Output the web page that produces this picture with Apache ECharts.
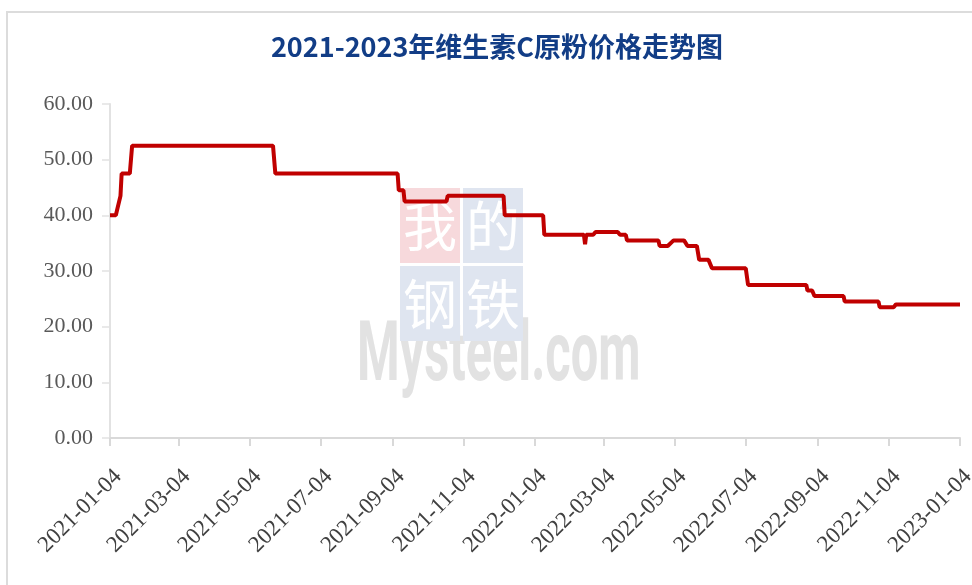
<!DOCTYPE html>
<html>
<head>
<meta charset="utf-8">
<script src="https://cdn.jsdelivr.net/npm/echarts@6/dist/echarts.min.js"></script>
<style>html,body{margin:0;padding:0;background:#fff}#main{width:972px;height:585px}</style>
</head>
<body>
<div id="main"></div>
<script>
// ---- data ----
const titleText = '2021-2023年维生素C原粉价格走势图';
const startDate = '2021-01-04';
const endDate = '2023-01-04';
const tickLabels = ['2021-01-04','2021-03-04','2021-05-04','2021-07-04','2021-09-04','2021-11-04',
  '2022-01-04','2022-03-04','2022-05-04','2022-07-04','2022-09-04','2022-11-04','2023-01-04'];
const priceDates = ['2021-01-04','2021-01-09','2021-01-13','2021-01-14','2021-01-21','2021-01-23',
  '2021-05-24','2021-05-26','2021-09-08','2021-09-09','2021-09-13','2021-09-14','2021-10-20','2021-10-21',
  '2021-12-08','2021-12-09','2022-01-11','2022-01-12','2022-02-15','2022-02-16','2022-02-17','2022-02-23',
  '2022-02-25','2022-03-16','2022-03-18','2022-03-23','2022-03-24','2022-04-20','2022-04-21','2022-04-28',
  '2022-05-03','2022-05-12','2022-05-15','2022-05-23','2022-05-25','2022-06-02','2022-06-05','2022-07-04',
  '2022-07-06','2022-08-25','2022-08-26','2022-08-30','2022-09-01','2022-09-26','2022-09-27','2022-10-26',
  '2022-10-27','2022-11-08','2022-11-10','2023-01-04'];
const priceValues = [40,40,43.5,47.5,47.5,52.5,
  52.5,47.5,47.5,44.5,44.5,42.5,42.5,43.5,
  43.5,40,40,36.5,36.5,34.8,36.5,36.5,
  37,37,36.5,36.5,35.5,35.5,34.5,34.5,
  35.5,35.5,34.5,34.5,32,32,30.5,30.5,
  27.5,27.5,26.5,26.5,25.5,25.5,24.5,24.5,
  23.5,23.5,24,24];
const yTicks = {min: 0, max: 60, interval: 10};

// ---- build daily category axis ----
function dayList(a, b) {
  const out = [];
  const d = new Date(a + 'T00:00:00Z');
  const e = new Date(b + 'T00:00:00Z');
  while (d <= e) { out.push(d.toISOString().slice(0, 10)); d.setUTCDate(d.getUTCDate() + 1); }
  return out;
}
const categories = dayList(startDate, endDate);
const tickSet = new Set(tickLabels);
const showTick = (i, v) => tickSet.has(v);

const chart = echarts.init(document.getElementById('main'), null, {renderer: 'canvas'});
chart.setOption({
  animation: false,
  backgroundColor: '#ffffff',
  title: {
    text: titleText,
    left: 492,
    textAlign: 'center',
    top: 28,
    textStyle: {fontFamily: 'Noto Sans CJK SC', fontSize: 27, fontWeight: 'bold', color: '#123d86'}
  },
  graphic: [
    {type: 'rect', z: 0, silent: true, shape: {x: 7, y: 12, width: 1000, height: 700},
     style: {fill: 'none', stroke: '#dcdcdc', lineWidth: 2}},
    {type: 'text', z: 0, silent: true, x: 357, y: 359, scaleX: 0.58, style: {text: 'Mysteel.com', fill: '#e2e2e2', font: 'bold 84px Roboto', align: 'left', verticalAlign: 'middle'}},
    {type: 'rect', z: 1, silent: true, shape: {x: 400, y: 188, width: 60, height: 75}, style: {fill: '#f7d9dc'}},
    {type: 'rect', z: 1, silent: true, shape: {x: 463, y: 188, width: 60, height: 75}, style: {fill: '#dfe5f0'}},
    {type: 'rect', z: 1, silent: true, shape: {x: 400, y: 266, width: 60, height: 75}, style: {fill: '#dfe5f0'}},
    {type: 'rect', z: 1, silent: true, shape: {x: 463, y: 266, width: 60, height: 75}, style: {fill: '#dfe5f0'}},
    {type: 'text', z: 2, silent: true, x: 430, y: 226, style: {text: '我', fill: '#ffffff', font: '54px "Noto Sans CJK SC"', align: 'center', verticalAlign: 'middle'}},
    {type: 'text', z: 2, silent: true, x: 493, y: 226, style: {text: '的', fill: '#ffffff', font: '54px "Noto Sans CJK SC"', align: 'center', verticalAlign: 'middle'}},
    {type: 'text', z: 2, silent: true, x: 430, y: 304, style: {text: '钢', fill: '#ffffff', font: '54px "Noto Sans CJK SC"', align: 'center', verticalAlign: 'middle'}},
    {type: 'text', z: 2, silent: true, x: 493, y: 304, style: {text: '铁', fill: '#ffffff', font: '54px "Noto Sans CJK SC"', align: 'center', verticalAlign: 'middle'}}
  ],
  grid: {left: 110, right: 12, top: 104, bottom: 147, containLabel: false, outerBoundsMode: 'none'},
  xAxis: {
    type: 'category',
    data: categories,
    boundaryGap: false,
    axisLine: {show: true, lineStyle: {color: '#d9d9d9', width: 2}},
    axisTick: {show: true, length: 8, interval: showTick, lineStyle: {color: '#d9d9d9', width: 2}},
    axisLabel: {interval: showTick, rotate: 45, margin: 27, verticalAlign: 'top', fontFamily: 'Liberation Serif', fontSize: 23, color: '#404040'},
    splitLine: {show: false}
  },
  yAxis: {
    type: 'value',
    min: yTicks.min, max: yTicks.max, interval: yTicks.interval,
    axisLine: {show: true, lineStyle: {color: '#e2e2e2', width: 2}},
    axisTick: {show: true, length: 8, lineStyle: {color: '#e2e2e2', width: 1.5}},
    axisLabel: {formatter: v => v.toFixed(2), margin: 17, fontFamily: 'Liberation Serif', fontSize: 22, color: '#595959'},
    splitLine: {show: false}
  },
  series: [{
    type: 'line',
    name: '维生素C原粉价格',
    data: priceDates.map((d, i) => [d, priceValues[i]]),
    showSymbol: false,
    symbol: 'none',
    lineStyle: {color: '#c00000', width: 4, join: 'bevel'},
    itemStyle: {color: '#c00000'},
    z: 5
  }]
});
</script>
</body>
</html>
